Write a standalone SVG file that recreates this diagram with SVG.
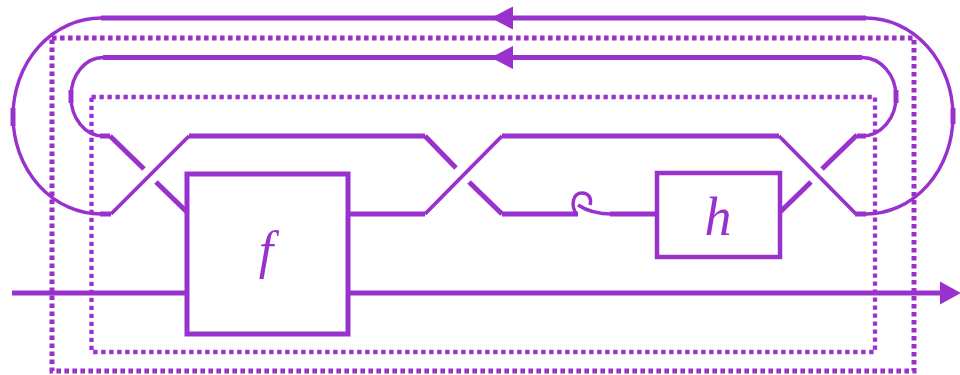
<svg xmlns="http://www.w3.org/2000/svg" width="960" height="375" viewBox="0 0 960 375">
<style>
.w{fill:none;stroke:#9932CC;stroke-width:5;stroke-linecap:butt;stroke-linejoin:miter}
.d{fill:none;stroke:#9932CC;stroke-width:3.8}
.a{fill:none;stroke:#9932CC;stroke-width:3.4}
.box{fill:#fff;stroke:#9932CC;stroke-width:5}
.dot1{fill:none;stroke:#9932CC;stroke-width:5;stroke-dasharray:4.6 3.4}
.dot2{fill:none;stroke:#9932CC;stroke-width:4.3;stroke-dasharray:4.3 3.7}
.ah{fill:#9932CC}
.lbl{font-family:"Liberation Serif","DejaVu Serif",serif;font-style:italic;fill:#9932CC;text-anchor:middle}
</style>
<g id="connectors">
  <!-- outer feedback loop -->
  <path class="w" d="M 866 18 L 101 18"/>
  <path class="a" d="M 101 18 A 88 98 0 0 0 13 116 A 88 98 0 0 0 101 214"/>
  <path class="w" d="M 13 108 L 13 126"/>
  <path class="w" d="M 100 214 L 111 214"/>
  <path class="a" d="M 866 18 A 87 98 0 0 1 953 116 A 87 98 0 0 1 866 214"/>
  <path class="w" d="M 953 108 L 953 124"/>
  <path class="w" d="M 866 214 L 855 214"/>
  <polygon class="ah" points="491,18 513,6.5 513,29.5"/>
  <!-- inner feedback loop -->
  <path class="w" d="M 862 57.5 L 103 57.5"/>
  <path class="a" d="M 103 57.5 A 32 39 0 0 0 71 96.5 A 32 39 0 0 0 103 136"/>
  <path class="w" d="M 71 90 L 71 103"/>
  <path class="w" d="M 100 136 L 110 136"/>
  <path class="a" d="M 862 57.5 A 34 39 0 0 1 896 96.5 A 34 39 0 0 1 862 136"/>
  <path class="w" d="M 896 90 L 896 103"/>
  <path class="w" d="M 866 136 L 857 136"/>
  <polygon class="ah" points="491,57.5 513,46 513,69"/>
  <!-- left crossing -->
  <path class="d" d="M 111 214 L 189 136"/>
  <path class="w" d="M 110 136 L 144 169"/>
  <path class="w" d="M 156 182 L 189 214"/>
  <!-- upper middle strand -->
  <path class="w" d="M 189 136 L 425 136"/>
  <path class="w" d="M 502 136 L 779 136"/>
  <!-- f output to middle crossing -->
  <path class="w" d="M 348 214 L 425 214"/>
  <!-- middle crossing -->
  <path class="d" d="M 425 214 L 502 136"/>
  <path class="w" d="M 425 136 L 456 168"/>
  <path class="w" d="M 469 182 L 502 214"/>
  <!-- curl / twist -->
  <path class="w" d="M 502 214 L 578 214"/>
  <path class="a" d="M 577 215 C 570 205 573 193 582 193 C 589 193 592 199 590 205"/>
  <path class="a" d="M 578 205 C 587 211 597 214 612 214"/>
  <path class="w" d="M 610 214 L 657 214"/>
  <!-- right crossing -->
  <path class="d" d="M 779 136 L 856 214"/>
  <path class="w" d="M 776 216 L 811 182"/>
  <path class="w" d="M 822 169 L 857 135"/>
  <!-- through wire -->
  <path class="w" d="M 12 293 L 187 293"/>
  <path class="w" d="M 348 293 L 942 293"/>
  <polygon class="ah" points="940,281.5 961,293 940,304.5"/>
</g>
<g id="outer-box">
  <rect class="dot1" x="52" y="38" width="862" height="333"/>
</g>
<g id="inner-box">
  <rect class="dot2" x="91.5" y="97" width="783.5" height="255"/>
</g>
<g id="node-f">
  <rect class="box" x="187" y="174" width="161" height="160"/>
  <text class="lbl" x="266" y="268" font-size="52">f</text>
</g>
<g id="node-h">
  <rect class="box" x="657" y="173" width="123" height="84" style="stroke-width:4.5"/>
  <text class="lbl" x="718" y="235" font-size="54">h</text>
</g>
</svg>
